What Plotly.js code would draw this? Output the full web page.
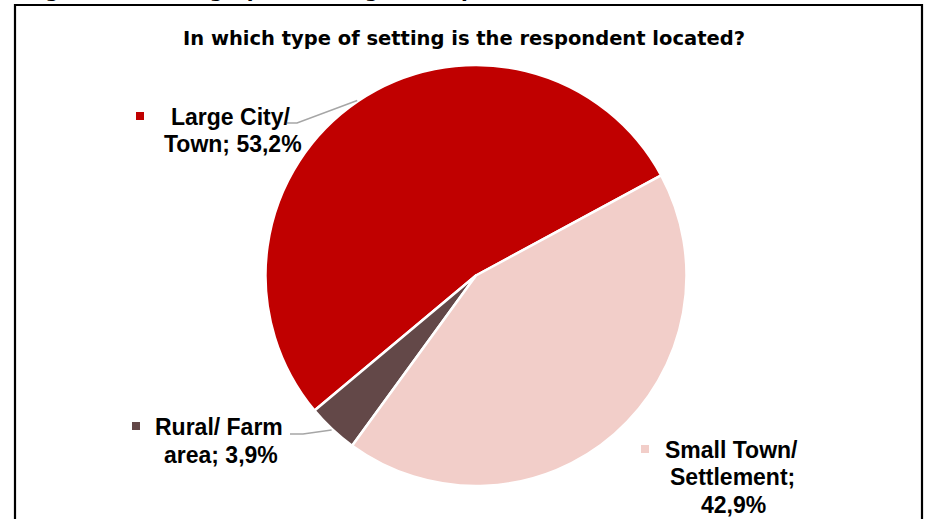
<!DOCTYPE html>
<html>
<head>
<meta charset="utf-8">
<script src="https://cdn.plot.ly/plotly-3.0.1.min.js"></script>
<style>html,body{margin:0;padding:0;background:#fff;}#chart{width:930px;height:519px;}</style>
</head>
<body>
<div id="chart"></div>
<script>
// ---- data ----
const categories = ['Large City/ Town', 'Rural/ Farm area', 'Small Town/ Settlement'];
const values = [53.2, 3.9, 42.9];
const colors = ['#C00000', '#634848', '#F2CEC9'];
const chartTitle = 'In which type of setting is the respondent located?';
const captionText = 'Figure 4.12: Geographic settings of respondents';
// label line breaks (text parts before the value)
const labelBreaks = [['Large City/', 'Town'], ['Rural/ Farm', 'area'], ['Small Town/', 'Settlement']];

// ---- layout helpers ----
const W = 930, H = 519;
const px = x => x / W;
const py = y => 1 - y / H;
const fmt = v => v.toFixed(1).replace('.', ',') + '%';

// pie geometry (pixels)
const cx = 476, cy = 275.5, R = 210.5;
const startCW = 61.6; // first slice begins here (degrees clockwise from 12 o'clock), runs counterclockwise
const total = values.reduce((a, b) => a + b, 0);
// Plotly's counterclockwise mode places the first slice's far edge at rotation + its span
const rotation = startCW - 360 * values[0] / total;

function labelLines(i) {
  const b = labelBreaks[i];
  if (i === 2) return [b[0], b[1] + ';', fmt(values[i])];
  return [b[0], b[1] + '; ' + fmt(values[i])];
}

const labelPos = [
  {x: [230, 233], y: [117, 144], key: [136, 112]},
  {x: [219, 221], y: [427, 455], key: [132, 422]},
  {x: [731.5, 732.5, 733], y: [450, 477, 505], key: [641, 445]}
];
const leaderStart = {0: [[287, 123], [297, 123]], 1: [[290, 434], [303, 434]]};

const annotations = [];
const shapes = [];

// title
annotations.push({
  text: '<b>' + chartTitle + '</b>', x: px(463.5), y: py(38.8), xref: 'paper', yref: 'paper',
  xanchor: 'center', yanchor: 'middle', showarrow: false,
  font: {family: 'DejaVu Sans, Liberation Sans, Arial', size: 19.5, color: '#000'}
});
// clipped caption at the very top (only its lower edge is visible, as in the source)
annotations.push({
  text: '<b>' + captionText + '</b>', x: px(23), y: py(4.5), xref: 'paper', yref: 'paper',
  xanchor: 'left', yanchor: 'bottom', showarrow: false,
  font: {family: 'DejaVu Sans, Liberation Sans, Arial', size: 19.7, color: '#000'}
});

let cum = 0;
values.forEach((v, i) => {
  const lines = labelLines(i);
  const pos = labelPos[i];
  lines.forEach((t, k) => {
    annotations.push({
      text: '<b>' + t + '</b>', x: px(pos.x[k]), y: py(pos.y[k]), xref: 'paper', yref: 'paper',
      xanchor: 'center', yanchor: 'middle', showarrow: false,
      font: {family: 'Liberation Sans, Arial', size: 23, color: '#000'}
    });
  });
  // legend key square
  shapes.push({
    type: 'rect', xref: 'paper', yref: 'paper',
    x0: px(pos.key[0]), x1: px(pos.key[0] + 8), y0: py(pos.key[1] + 8), y1: py(pos.key[1]),
    fillcolor: colors[i], line: {width: 0}
  });
  // leader line to slice mid-angle
  const midDeg = (90 - startCW) + 360 * (cum + v / 2) / total;
  cum += v;
  if (leaderStart[i]) {
    const a = midDeg * Math.PI / 180;
    const ex = cx + (R + 1) * Math.cos(a);
    const ey = cy - (R + 1) * Math.sin(a);
    const s = leaderStart[i];
    shapes.push({
      type: 'path', xref: 'paper', yref: 'paper',
      path: `M ${px(s[0][0])},${py(s[0][1])} L ${px(s[1][0])},${py(s[1][1])} L ${px(ex)},${py(ey)}`,
      line: {color: '#A6A6A6', width: 1.5}
    });
  }
});

// outer frame
shapes.push({
  type: 'rect', xref: 'paper', yref: 'paper',
  x0: px(15), x1: px(922), y0: py(540), y1: py(5),
  line: {color: '#000', width: 2.2}, fillcolor: 'rgba(0,0,0,0)'
});

const trace = {
  type: 'pie',
  labels: categories,
  values: values,
  marker: {colors: colors, line: {color: '#FFFFFF', width: 2.5}},
  textinfo: 'none',
  sort: false,
  direction: 'counterclockwise',
  rotation: rotation,
  domain: {x: [px(cx - R), px(cx + R)], y: [py(cy + R), py(cy - R)]},
  hoverinfo: 'skip',
  showlegend: false
};

const layout = {
  width: W, height: H,
  margin: {l: 0, r: 0, t: 0, b: 0, pad: 0},
  paper_bgcolor: '#FFFFFF',
  plot_bgcolor: '#FFFFFF',
  showlegend: false,
  annotations: annotations,
  shapes: shapes
};

Plotly.newPlot('chart', [trace], layout, {displayModeBar: false, staticPlot: true});
</script>
</body>
</html>
